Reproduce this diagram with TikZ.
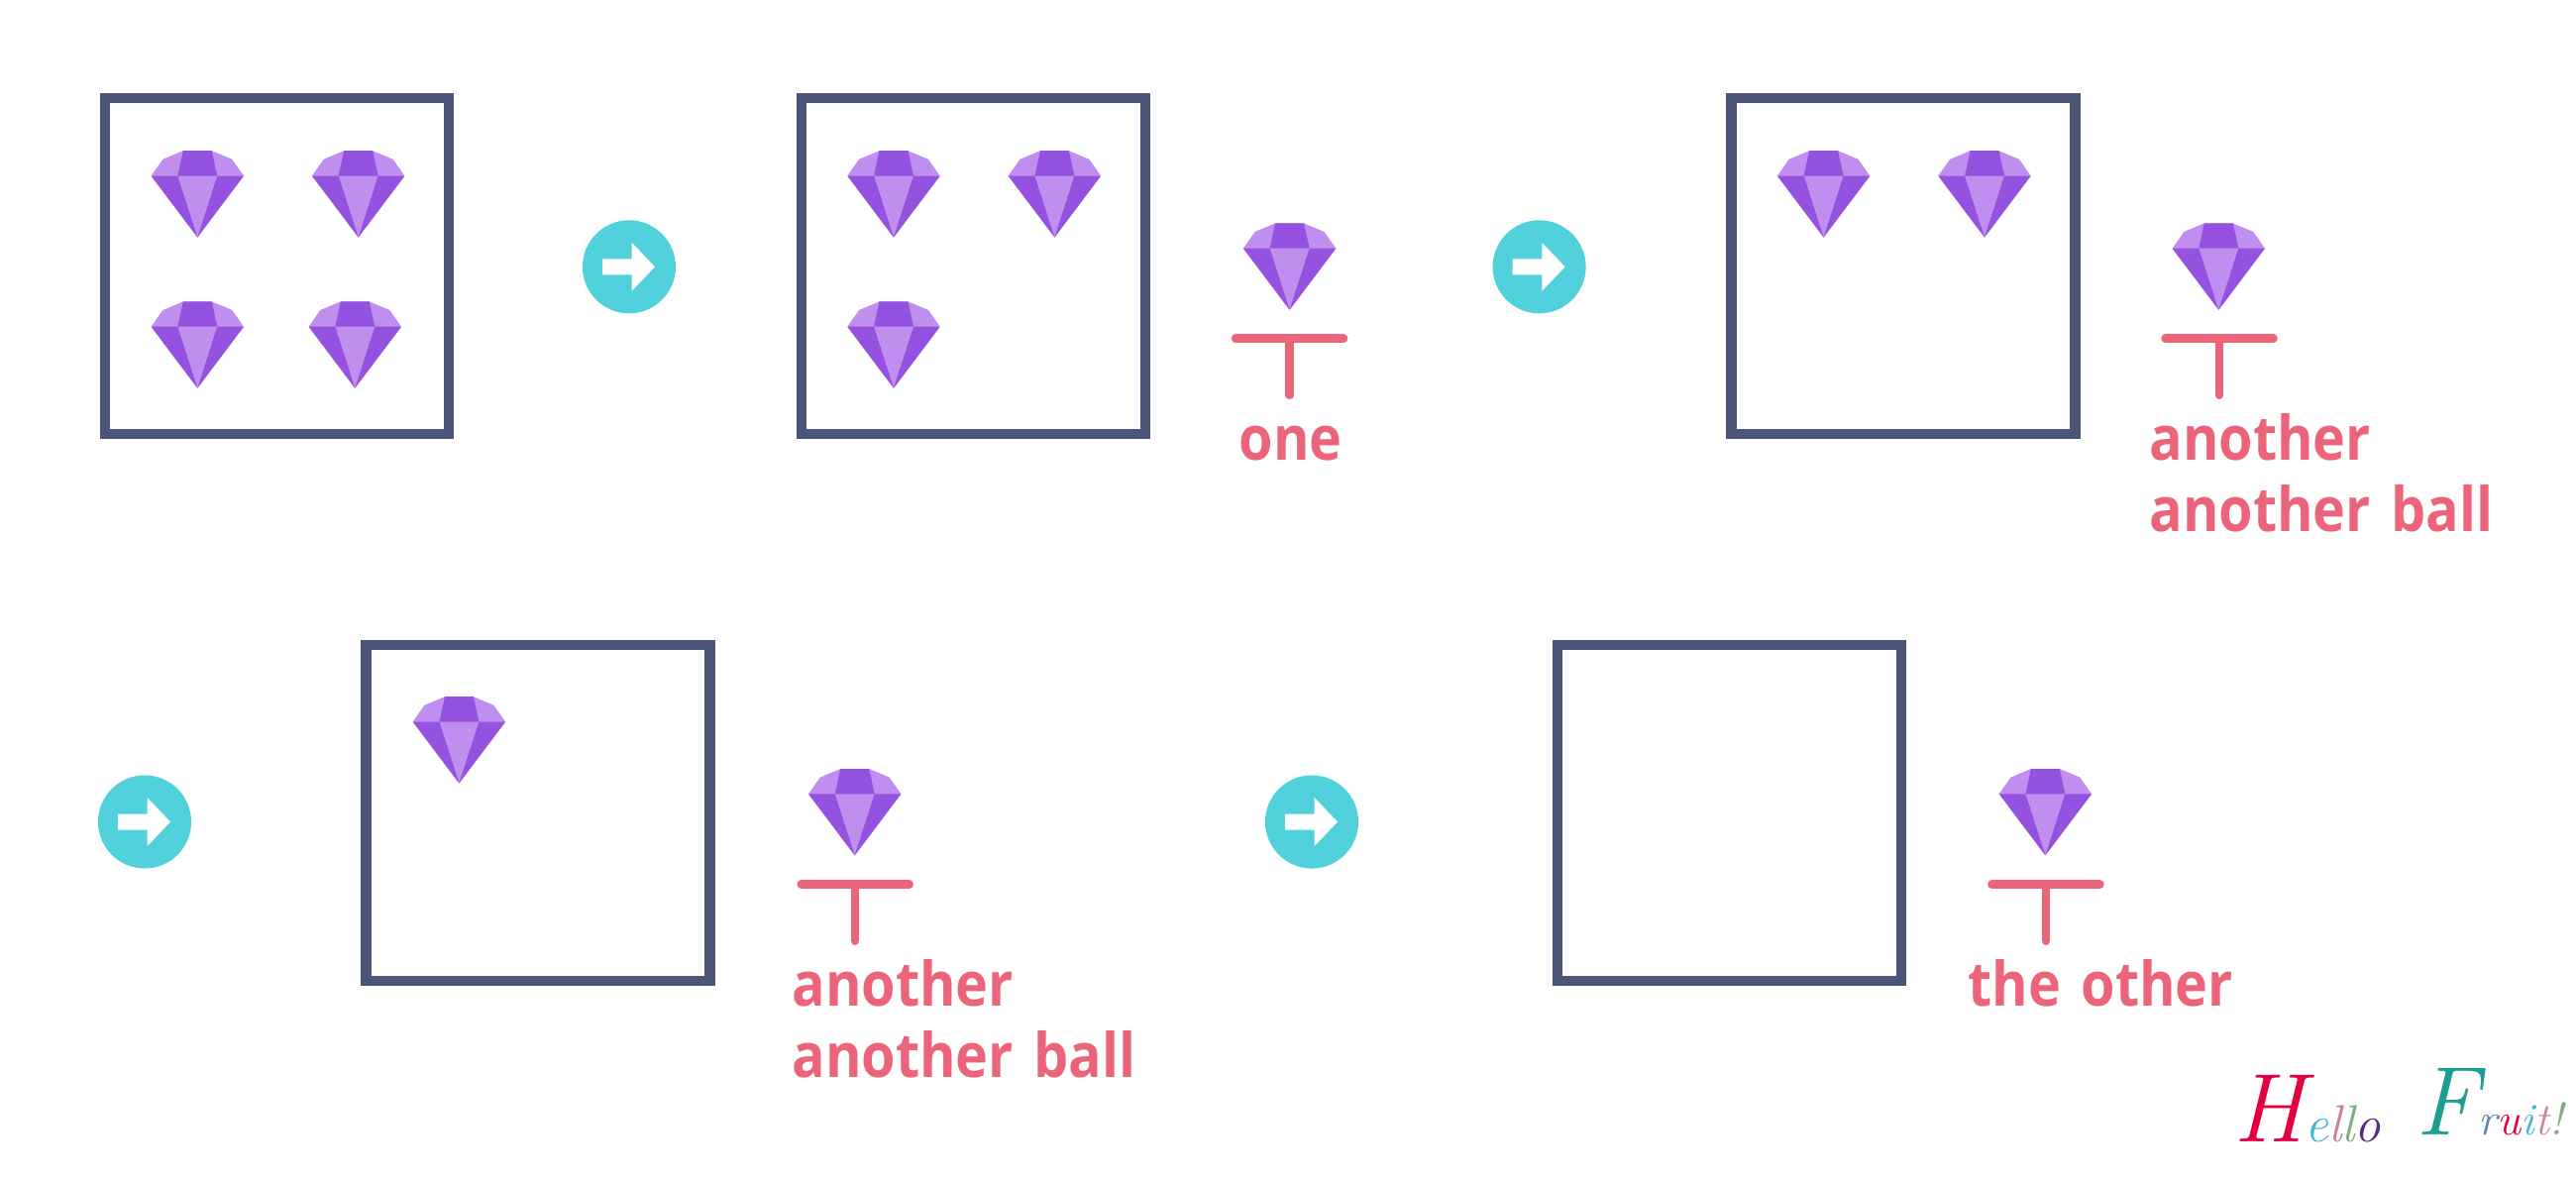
\documentclass[tikz,border=0pt]{standalone}
\usepackage{fontspec}
\usetikzlibrary{positioning}
\newfontfamily\labelfont[FakeStretch=0.9, WordSpace=1.4]{Open Sans}
\definecolor{boxblue}{HTML}{4A5578}
\definecolor{gemdark}{HTML}{9552E0}
\definecolor{gemlight}{HTML}{C08EEE}
\definecolor{pickpink}{HTML}{EB6479}
\definecolor{btnteal}{HTML}{50D1DB}
\definecolor{sigred}{HTML}{E4003F}
\definecolor{sigblue}{HTML}{45B5D8}
\definecolor{sigrose}{HTML}{D0809C}
\definecolor{siggreen}{HTML}{7FAE80}
\definecolor{sigpurple}{HTML}{5A2A82}
\definecolor{sigteal}{HTML}{1E9E92}
\definecolor{sigslate}{HTML}{5F86B0}
\tikzset{
  bag/.style = {draw=boxblue, line width=0.105cm, minimum width=3.47cm, minimum height=3.39cm, inner sep=0pt},
  btn/.style = {circle, fill=btnteal, minimum size=0.94cm, inner sep=0pt},
  word/.style = {text=pickpink, font=\labelfont\bfseries\fontsize{17.6pt}{20.3pt}\selectfont, inner sep=0pt, align=left, anchor=base west},
  sig/.style = {inner sep=0pt, anchor=base west, font=\itshape\fontsize{15pt}{15pt}\selectfont},
  gem/.pic = {
    \fill [gemlight] (-46.7,-62) -- (-35,-78.7) -- (-14.5,-87.3) -- (14.5,-87.3) -- (35,-78.7) -- (46.7,-62) -- (0,0) -- cycle;
    \fill [gemdark] (-14.5,-87.3) -- (14.5,-87.3) -- (20,-62) -- (-20,-62) -- cycle;
    \fill [gemdark] (-46.7,-62) -- (-20,-62) -- (0,0) -- cycle;
    \fill [gemdark] (46.7,-62) -- (20,-62) -- (0,0) -- cycle;
  },
  tee/.pic = {
    \draw [pickpink, line width=0.085cm, line cap=round] (-54.5,0) -- (54.5,0);
    \draw [pickpink, line width=0.085cm, line cap=round] (0,0) -- (0,57);
  },
  go/.pic = {
    \fill [white] (-27,-8) -- (2.7,-8) -- (2.7,-24.5) -- (26,0) -- (2.7,24.5) -- (2.7,8) -- (-27,8) -- cycle;
  }
}
\begin{document}
\begin{tikzpicture}[x=0.01cm, y=-0.01cm]
\useasboundingbox (0,0) rectangle (2600,1190);
% top row
\node [bag] (bag1) at (279.5,268.5) {};
\pic (g11) at (199.3,239.5) {gem};
\pic (g12) at (361.7,239.5) {gem};
\pic (g13) at (199.3,391.7) {gem};
\pic (g14) at (358.3,391.7) {gem};
\node [btn] (btn1) at (635,269.3) {};
\pic (a1) at (btn1) {go};
\node [bag] (bag2) at (982.5,268.5) {};
\pic (g21) at (902,239.5) {gem};
\pic (g22) at (1064.4,239.5) {gem};
\pic (g23) at (902,391.7) {gem};
\pic (p1) at (1301.6,312.7) {gem};
\pic (t1) at (1301.6,341.7) {tee};
\node [word] (one) at (1250,464.5) {one};
\node [btn] (btn2) at (1553.6,269.3) {};
\pic (a2) at (btn2) {go};
\node [bag] (bag3) at (1921,268.5) {};
\pic (g31) at (1840.6,239.5) {gem};
\pic (g32) at (2003,239.5) {gem};
\pic (p2) at (2239.3,312.7) {gem};
\pic (t2) at (2240,341.7) {tee};
\node [word] (another1) at (2168.7,536) {another\\another ball};
% bottom row
\node [btn] (btn3) at (146,829.5) {};
\pic (a3) at (btn3) {go};
\node [bag] (bag4) at (543,820.5) {};
\pic (g41) at (463.4,790.5) {gem};
\pic (p3) at (862.7,863.3) {gem};
\pic (t3) at (863.2,892.7) {tee};
\node [word] (another2) at (798.7,1087) {another\\another ball};
\node [btn] (btn4) at (1324,829.5) {};
\pic (a4) at (btn4) {go};
\node [bag] (bag5) at (1745.5,820.5) {};
\pic (p4) at (2064.4,863.3) {gem};
\pic (t4) at (2064.9,892.7) {tee};
\node [word] (other) at (1986,1015.3) {the other};
% signature
\node [sig] (hello) at (2254,1152) {\textcolor{sigred}{\fontsize{28pt}{28pt}\selectfont H}\textcolor{sigblue}{e}\textcolor{sigrose}{l}\textcolor{siggreen}{l}\textcolor{sigpurple}{o}};
\node [sig] (fruit) at (2438,1145) {\textcolor{sigteal}{\fontsize{28pt}{28pt}\selectfont F}\textcolor{sigslate}{\fontsize{13pt}{13pt}\selectfont r}\textcolor{sigred}{\fontsize{13pt}{13pt}\selectfont u}\textcolor{sigblue}{\fontsize{13pt}{13pt}\selectfont i}\textcolor{sigrose}{\fontsize{13pt}{13pt}\selectfont t}\textcolor{siggreen}{\fontsize{13pt}{13pt}\selectfont !}};
\end{tikzpicture}
\end{document}
